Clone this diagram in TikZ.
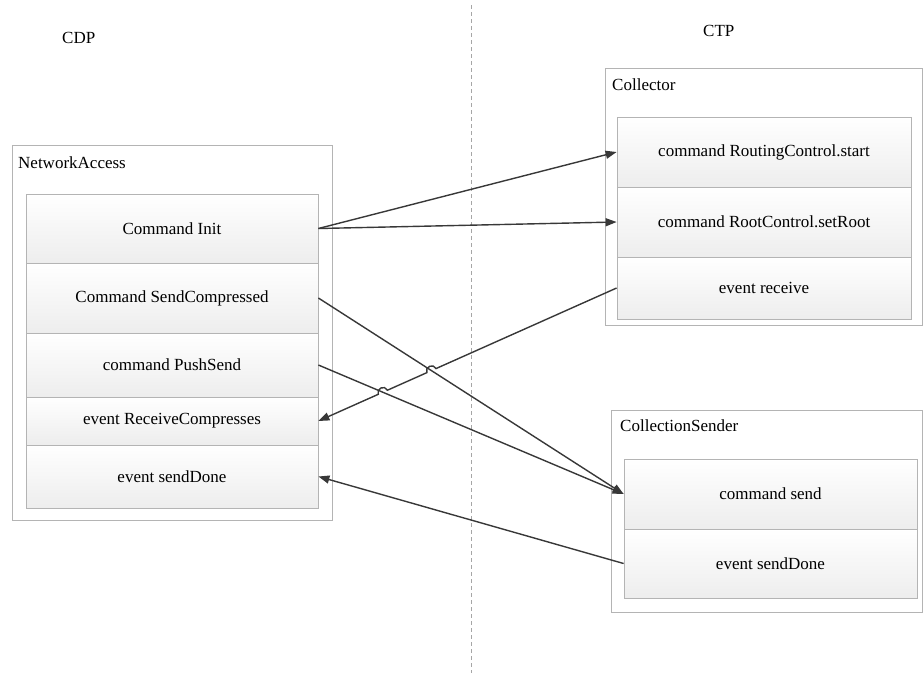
\documentclass[tikz,border=0pt]{standalone}
\usepackage{fontspec}
\setmainfont{Liberation Serif}
\usetikzlibrary{arrows.meta,calc}
\definecolor{edgegray}{HTML}{B4B4B4}
\definecolor{linegray}{HTML}{383838}
\begin{document}
\begin{tikzpicture}[x=1pt,y=-1pt,
  outerbox/.style={draw=edgegray, fill=white, line width=0.8pt, anchor=north west, inner sep=0pt},
  cell/.style={draw=edgegray, line width=0.8pt, top color=white, bottom color=gray!14, inner sep=0pt,
    font=\fontsize{17}{20}\selectfont, align=center},
  ttl/.style={font=\fontsize{17}{20}\selectfont, anchor=west, inner sep=0pt},
  conn/.style={draw=linegray, line width=1.4pt},
  arr/.style={conn, -{Triangle[length=11pt,width=8pt]}}
]
\useasboundingbox (0,0) rectangle (923,673);
% divider
\coordinate (dtop) at (471,5);
\coordinate (dbot) at (471,673);
\draw[gray!70, line width=0.6pt, dash pattern=on 4pt off 3pt] (dtop) -- (dbot);

\node[ttl] (cdp) at (62,38) {CDP};
\node[ttl] (ctp) at (703,31) {CTP};

% outer containers
\node[outerbox, minimum width=320pt, minimum height=375pt] (na) at (12,145) {};
\node[outerbox, minimum width=317pt, minimum height=257pt] (coll) at (605,68) {};
\node[outerbox, minimum width=311pt, minimum height=202pt] (cs) at (611,410) {};

\node[ttl] (natl) at (18,163) {NetworkAccess};
\node[ttl] (colltl) at (612,85) {Collector};
\node[ttl] (cstl) at (620,426) {CollectionSender};

% NetworkAccess cells
\node[cell, minimum width=292pt, minimum height=69pt] (init) at (172,228.5) {Command Init};
\node[cell, minimum width=292pt, minimum height=70pt] (sc) at (172,298) {Command SendCompressed};
\node[cell, minimum width=292pt, minimum height=64pt] (ps) at (172,365) {command PushSend};
\node[cell, minimum width=292pt, minimum height=48pt] (rc) at (172,421) {event ReceiveCompresses};
\node[cell, minimum width=292pt, minimum height=63pt] (sdl) at (172,476.5) {event sendDone};

% Collector cells
\node[cell, minimum width=294pt, minimum height=70pt] (rstart) at (764,152) {command RoutingControl.start};
\node[cell, minimum width=294pt, minimum height=70pt] (setroot) at (764,222) {command RootControl.setRoot};
\node[cell, minimum width=294pt, minimum height=62pt] (recv) at (764,288) {event receive};

% CollectionSender cells
\node[cell, minimum width=293pt, minimum height=70pt] (send) at (770.5,494) {command send};
\node[cell, minimum width=293pt, minimum height=69pt] (sdr) at (770.5,563.5) {event sendDone};

% connectors
\draw[arr] (init.east) -- (rstart.west);
\draw[arr] (init.east) -- (setroot.west);
\draw[arr] (sc.east) -- (send.west);
\draw[arr] (ps.east) -- (send.west);
\draw[arr] (sdr.west) -- (sdl.east);

% receive line with hops over the two crossing lines
\coordinate (x1) at (intersection of recv.west--rc.east and sc.east--send.west);
\coordinate (x2) at (intersection of recv.west--rc.east and ps.east--send.west);
\coordinate (a1) at ($(x1)!5pt!(recv.west)$);
\coordinate (b1) at ($(x1)!5pt!(rc.east)$);
\coordinate (a2) at ($(x2)!5pt!(recv.west)$);
\coordinate (b2) at ($(x2)!5pt!(rc.east)$);
\draw[arr] (recv.west) -- (a1) to[bend right=90, looseness=1.6] (b1) -- (a2) to[bend right=90, looseness=1.6] (b2) -- (rc.east);
\end{tikzpicture}
\end{document}
